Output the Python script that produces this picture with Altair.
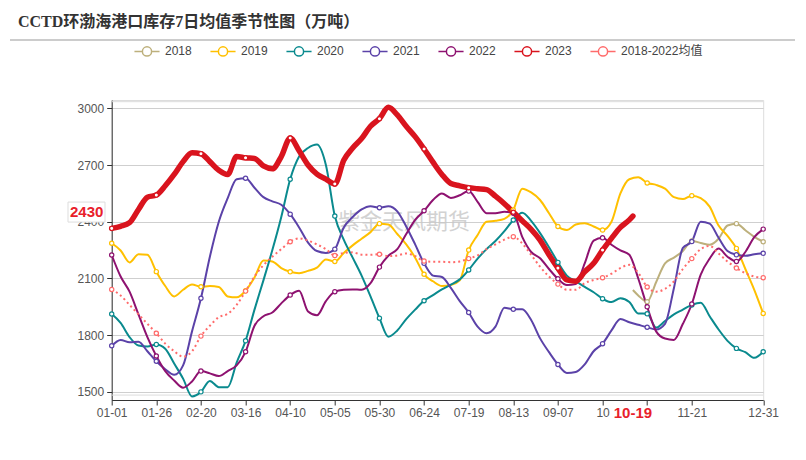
import altair as alt
import pandas as pd

title_text = "CCTD环渤海港口库存7日均值季节性图（万吨）"
watermark_text = "紫金天风期货"

series_names = ["2018", "2019", "2020", "2021", "2022", "2023", "2018-2022均值"]
series_colors = ["#BDB07C", "#FFC000", "#0A8A8E", "#5B42A8", "#8E1270", "#D9141E", "#FF6B6B"]

# day-of-year (leap-year calendar, 0 = 01-01)
days_all = list(range(0, 366, 5))
days_2023 = list(range(0, 291, 5)) + [292]
days_2018 = [292] + list(range(295, 366, 5))

v2018 = [2039, 2010, 1977, 2080, 2180, 2210, 2245, 2298, 2288, 2278, 2310, 2380, 2390, 2355, 2320, 2294]

v2019 = [2286, 2248, 2185, 2228, 2225, 2136, 2060, 2005, 2040, 2068,
         2056, 2060, 2055, 2005, 2000, 2035, 2105, 2195, 2190, 2155,
         2135, 2128, 2140, 2157, 2200, 2190, 2235, 2275, 2310, 2345,
         2390, 2385, 2335, 2280, 2210, 2122, 2085, 2060, 2065, 2090,
         2250, 2330, 2400, 2405, 2415, 2462, 2575, 2555, 2515, 2445,
         2375, 2356, 2385, 2392, 2375, 2356, 2400, 2550, 2625, 2635,
         2605, 2595, 2575, 2530, 2520, 2538, 2525, 2480, 2380, 2325,
         2259, 2150, 2040, 1915]

v2020 = [1912, 1865, 1790, 1745, 1740, 1751, 1728, 1650, 1570, 1476,
         1500, 1558, 1525, 1525, 1655, 1770, 1935, 2090, 2250, 2425,
         2625, 2745, 2790, 2808, 2700, 2430, 2305, 2210, 2115, 2005,
         1890, 1792, 1825, 1885, 1935, 1982, 2012, 2042, 2067, 2095,
         2145, 2205, 2255, 2298, 2350, 2409, 2448, 2405, 2340, 2265,
         2185, 2115, 2085, 2055, 2027, 1993, 1975, 1995, 1975, 1915,
         1913, 1840, 1875, 1910, 1935, 1960, 1972, 1900, 1830, 1770,
         1730, 1710, 1680, 1712]

v2021 = [1744, 1775, 1762, 1765, 1715, 1662, 1620, 1590, 1640, 1820,
         1995, 2215, 2400, 2525, 2625, 2630, 2580, 2530, 2508, 2490,
         2440, 2370, 2290, 2245, 2235, 2255, 2370, 2425, 2465, 2482,
         2474, 2482, 2455, 2375, 2280, 2180, 2115, 2108, 2050, 1980,
         1920, 1845, 1810, 1845, 1945, 1937, 1937, 1880, 1783, 1710,
         1645, 1600, 1605, 1645, 1715, 1755, 1825, 1885, 1868, 1855,
         1842, 1830, 1860, 2050, 2262, 2295, 2400, 2390, 2315, 2245,
         2225, 2220, 2228, 2233]

v2022 = [2224, 2110, 2030, 1910, 1790, 1690, 1610, 1560, 1522, 1555,
         1610, 1598, 1584, 1610, 1640, 1712, 1850, 1900, 1920, 1968,
         2012, 2035, 1925, 1905, 1980, 2030, 2040, 2042, 2040, 2075,
         2160, 2220, 2255, 2335, 2410, 2458, 2515, 2550, 2526, 2540,
         2562, 2505, 2445, 2445, 2453, 2445, 2320, 2240, 2207, 2150,
         2098, 2065, 2070, 2180, 2300, 2315, 2278, 2248, 2225, 2100,
         1950, 1820, 1782, 1775, 1860, 1965, 2120, 2205, 2258, 2215,
         2190, 2240, 2318, 2361]

v2023 = [2365, 2376, 2395, 2465, 2530, 2541, 2590, 2650, 2718, 2765,
         2760, 2718, 2672, 2650, 2745, 2738, 2735, 2695, 2680, 2745,
         2843, 2775, 2700, 2652, 2625, 2600, 2725, 2790, 2840, 2905,
         2945, 3005, 2965, 2905, 2850, 2785, 2715, 2650, 2602, 2590,
         2580, 2575, 2570, 2535, 2495, 2450, 2405, 2360, 2303, 2225,
         2155, 2092, 2085, 2135, 2180, 2250, 2312, 2370, 2410, 2430]

v_avg = [2042, 2010, 1960, 1910, 1860, 1810, 1755, 1715, 1686, 1715,
         1795, 1850, 1895, 1913, 1960, 2033, 2110, 2170, 2215, 2255,
         2294, 2312, 2300, 2280, 2255, 2221, 2235, 2238, 2226, 2225,
         2228, 2218, 2222, 2232, 2218, 2192, 2188, 2188, 2186, 2190,
         2205, 2222, 2255, 2280, 2305, 2321, 2285, 2225, 2162, 2110,
         2070, 2040, 2040, 2075, 2092, 2104, 2125, 2155, 2172, 2130,
         2055, 2030, 2045, 2085, 2150, 2205, 2255, 2272, 2232, 2190,
         2155, 2128, 2110, 2104]

tick_days = [0, 25, 50, 75, 100, 125, 150, 175, 200, 225, 250, 275, 300, 325, 365]
# "10-02" is half hidden and "10-27" fully hidden behind the current-date label in the original
tick_labels = ["01-01", "01-26", "02-20", "03-16", "04-10", "05-05", "05-30", "06-24",
               "07-19", "08-13", "09-07", "10", "", "11-21", "12-31"]
y_ticks = [1500, 1800, 2100, 2400, 2700, 3000]

latest_day = 292
latest_day_label = "10-19"
latest_value = 2430

rows = []
for name, ds, vs in [("2018", days_2018, v2018), ("2019", days_all, v2019),
                     ("2020", days_all, v2020), ("2021", days_all, v2021),
                     ("2022", days_all, v2022), ("2023", days_2023, v2023),
                     ("2018-2022均值", days_all, v_avg)]:
    for d, v in zip(ds, vs):
        rows.append({"series": name, "day": d, "value": v})
df = pd.DataFrame(rows)

FONT = "Liberation Sans, Noto Sans CJK SC"
labels_js = "[" + ",".join("'%s'" % s for s in tick_labels) + "]"
days_js = "[" + ",".join(str(d) for d in tick_days) + "]"

x_enc = alt.X("day:Q", title=None,
              scale=alt.Scale(domain=[0, 365], nice=False, zero=False),
              axis=alt.Axis(values=tick_days, labelExpr=f"{labels_js}[indexof({days_js}, datum.value)]",
                            grid=False, domainColor="#333", tickColor="#333", tickSize=5,
                            labelPadding=2, labelColor="#555", labelFontSize=12, labelFont=FONT,
                            labelOverlap=False, labelFlush=False))
y_enc = alt.Y("value:Q", title=None,
              scale=alt.Scale(domain=[1457, 3044], nice=False, zero=False),
              axis=alt.Axis(values=y_ticks, format="d", grid=True, gridColor="#cfcfcf", domainColor="#333",
                            tickColor="#333", tickSize=5, labelPadding=3, labelColor="#555",
                            labelFontSize=12, labelFont=FONT))

cscale = alt.Scale(domain=series_names, range=series_colors)
sym_path = "M-1.5,0L-0.55,0M0.55,0L1.5,0M-0.55,0A0.55,0.55,0,1,1,0.55,0A0.55,0.55,0,1,1,-0.55,0Z"
legend = alt.Legend(title=None, orient="none", legendX=25.8, legendY=-58.5, direction="horizontal",
                    symbolType=sym_path, symbolSize=280, symbolStrokeWidth=1.5,
                    symbolFillColor="white", labelFontSize=12, labelColor="#444", labelFont=FONT,
                    labelOffset=8.5, columnPadding=14, padding=0)

base = alt.Chart(df)

extra_grid = alt.Chart(pd.DataFrame({"g": [3035, 1483]})).mark_rule(color="#dcdcdc", strokeWidth=1).encode(
    y=alt.Y("g:Q", scale=alt.Scale(domain=[1457, 3044], nice=False, zero=False)))

lines_main = base.transform_filter(
    alt.FieldOneOfPredicate(field="series", oneOf=["2018", "2019", "2020", "2021", "2022"])
).mark_line(interpolate="monotone", strokeWidth=2).encode(
    x=x_enc, y=y_enc, color=alt.Color("series:N", scale=cscale, legend=legend))

line_avg = base.transform_filter(alt.datum.series == "2018-2022均值").mark_line(
    interpolate="monotone", strokeWidth=2, strokeDash=[2, 3]).encode(
    x=x_enc, y=y_enc, color=alt.Color("series:N", scale=cscale, legend=None))

line_2023 = base.transform_filter(alt.datum.series == "2023").mark_line(
    interpolate="monotone", strokeWidth=5.5, strokeCap="round", strokeJoin="round").encode(
    x=x_enc, y=y_enc, color=alt.Color("series:N", scale=cscale, legend=None))

points = base.transform_filter("datum.day % 25 == 0 || datum.day == 365").mark_point(
    filled=True, fill="white", size=18, strokeWidth=1.2, opacity=1).encode(
    x=x_enc, y=y_enc, stroke=alt.Stroke("series:N", scale=cscale, legend=None))

lab_df = pd.DataFrame({"v": [latest_value], "t": [str(latest_value)], "d": [latest_day], "dl": [latest_day_label]})
lab_base = alt.Chart(lab_df)

val_box = lab_base.mark_rect(fill="white", stroke="#dddddd", strokeWidth=1, yOffset=-14, y2Offset=6).encode(
    x=alt.value(-43.7), x2=alt.value(-6.7), y="v:Q", y2="v:Q")
val_text = lab_base.mark_text(fontSize=15, fontWeight="bold", color="#E8202A", font=FONT,
                              align="center", baseline="middle", dy=-4).encode(
    x=alt.value(-25), y="v:Q", text="t:N")

day_text = lab_base.mark_text(fontSize=15, fontWeight="bold", color="#E8202A", font=FONT,
                              align="center", baseline="middle").encode(
    x="d:Q", y=alt.value(312.5), text="dl:N")

wm = alt.Chart(pd.DataFrame({"t": [watermark_text]})).mark_text(
    fontSize=22, color="#c8c8c8", opacity=0.8, font="Noto Sans CJK SC", align="center",
    baseline="middle").encode(text="t:N", x=alt.value(292.3), y=alt.value(122))

title = alt.Chart(pd.DataFrame({"t": [title_text]})).mark_text(
    fontSize=16, fontWeight="bold", color="#333", font="Liberation Serif, Noto Sans CJK SC",
    align="left", baseline="middle").encode(text="t:N", x=alt.value(-93.7), y=alt.value(-78))

sep = alt.Chart(pd.DataFrame({"a": [0]})).mark_rule(color="#999", strokeWidth=1).encode(
    x=alt.value(-101.7), x2=alt.value(683.3), y=alt.value(-60))

chart = alt.layer(
    extra_grid, wm, lines_main, line_avg, line_2023, points,
    val_box, val_text, day_text, title, sep
).properties(
    width=651.5, height=300,
    autosize=alt.AutoSizeParams(type="none"),
    padding={"left": 103.7, "top": 92, "right": 34.8, "bottom": 52}
).configure_view(stroke=None).configure(background="white")

chart.save("out.html", embed_options={"renderer": "svg", "actions": False})
